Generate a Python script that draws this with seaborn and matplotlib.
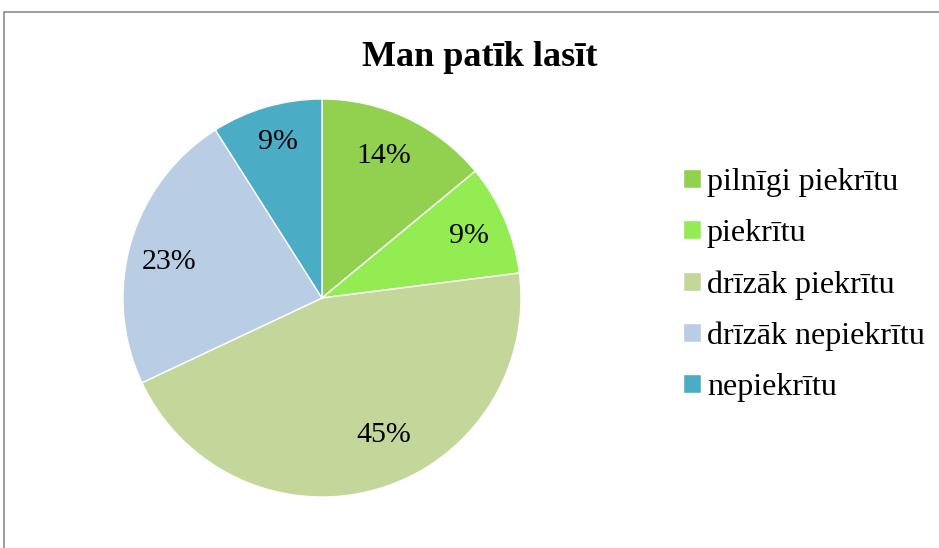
import matplotlib
matplotlib.use("Agg")
import matplotlib.pyplot as plt
import seaborn as sns
from matplotlib.patches import Rectangle

categories = ["pilnīgi piekrītu", "piekrītu", "drīzāk piekrītu", "drīzāk nepiekrītu", "nepiekrītu"]
values = [14, 9, 45, 23, 9]
colors = ["#92D050", "#92EC52", "#C4D79B", "#B9CDE5", "#4BACC6"]
title = "Man patīk lasīt"

# small pixel nudges for the percentage labels (Excel places them a bit differently)
label_nudge_px = [(-4, -2), (4, 0), (18, -12), (-4, 7), (-1, -7)]

sns.set_theme(style="white")
plt.rcParams['font.family'] = ['Liberation Serif', 'DejaVu Serif']
plt.rcParams['text.color'] = 'black'

W, H = 939, 548
fig = plt.figure(figsize=(W / 100, H / 100), dpi=100)

# outer chart border (right and bottom are cut off in the reference)
fig.patches.append(Rectangle((4 / W, -0.1), 1.2, 1 - 12 / H + 0.1,
                             transform=fig.transFigure, fill=False,
                             edgecolor="#8c8c8c", linewidth=1.2))

cx, cy, r = 322, 298, 199
ax = fig.add_axes([(cx - r) / W, (H - cy - r) / H, 2 * r / W, 2 * r / H])
wedges, texts, autotexts = ax.pie(
    values, colors=colors, startangle=90, counterclock=False,
    autopct="%1.0f%%", pctdistance=0.78,
    wedgeprops=dict(edgecolor="white", linewidth=1.0),
    textprops=dict(fontsize=21.5, color="black"))
for t, (dx, dy) in zip(autotexts, label_nudge_px):
    x, y = t.get_position()
    t.set_position((x + dx / r, y - dy / r))
ax.set_xlim(-1, 1)
ax.set_ylim(-1, 1)
ax.set_aspect("equal")
ax.axis("off")

fig.text(480 / W, 1 - 58 / H, title, ha="center", va="center",
         fontsize=26, fontweight="bold", color="black")

fig.legend(wedges, categories, loc="upper left",
           bbox_to_anchor=(683 / W, 1 - 168 / H), frameon=False,
           fontsize=23, handlelength=0.55, handleheight=0.55,
           handletextpad=0.2, labelspacing=0.69, borderaxespad=0,
           borderpad=0, labelcolor="black")

fig.savefig("out.png", dpi=100)
